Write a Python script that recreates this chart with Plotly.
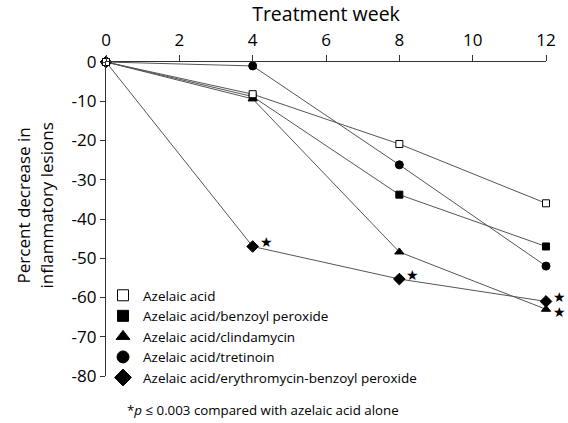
import plotly.graph_objects as go

weeks = [0, 4, 8, 12]
series_names = [
    "Azelaic acid",
    "Azelaic acid/benzoyl peroxide",
    "Azelaic acid/clindamycin",
    "Azelaic acid/tretinoin",
    "Azelaic acid/erythromycin-benzoyl peroxide",
]
azelaic = [0, -8.2, -20.9, -36]
benzoyl = [0, -8.8, -33.8, -47]
clindamycin = [0, -9.4, -48.4, -63]
tretinoin = [0, -1, -26.2, -52]
erythro_bp = [0, -47, -55.3, -61]
x_ticks = [0, 2, 4, 6, 8, 10, 12]
y_ticks = [0, -10, -20, -30, -40, -50, -60, -70, -80]
y_tick_labels = ["0", "-10", "-20", "-30", "-40", "-50", "-60", "-70", "-80"]
# significance markers: (week, value) pairs
sig_points = [(4, -47), (8, -55.3), (12, -61), (12, -63)]

values = [azelaic, benzoyl, clindamycin, tretinoin, erythro_bp]
symbols = ["square", "square", "triangle-up", "circle", "diamond"]
fills = ["white", "black", "black", "black", "black"]
sizes = [7, 7, 8, 8, 9]

FONT = "Open Sans"
fig = go.Figure()
# draw azelaic acid last so its open marker sits on top
order = [1, 2, 3, 4, 0]
for i in order:
    fig.add_trace(go.Scatter(
        x=weeks, y=values[i], mode="lines+markers", showlegend=False,
        line=dict(color="#555555", width=1),
        marker=dict(symbol=symbols[i], size=sizes[i], color=fills[i],
                    line=dict(color="black", width=1)),
        cliponaxis=False,
    ))
for name, sym, sz, fc in zip(series_names, symbols, sizes, fills):
    fig.add_trace(go.Scatter(
        x=[None], y=[None], mode="markers", name=name,
        marker=dict(symbol=sym, size=sz + 4, color=fc, line=dict(color="black", width=1)),
    ))

for (wx, wy) in sig_points:
    fig.add_annotation(x=wx, y=wy, text="★", showarrow=False, xanchor="left", yanchor="middle",
                       xshift=5, yshift=4 if wy != -63 else -3,
                       font=dict(size=14, color="black", family="DejaVu Sans"))

fig.add_annotation(xref="paper", yref="paper", x=(125 - 106) / 443, y=-(410 - 376) / 314,
                   text="*<i>p</i> ≤ 0.003 compared with azelaic acid alone", showarrow=False,
                   xanchor="left", yanchor="middle", font=dict(size=13.3, family=FONT, color="black"))

fig.add_annotation(xref="paper", yref="paper", x=(34 - 106) / 443, y=(376 - 205) / 314,
                   text="Percent decrease in<br>inflammatory lesions", showarrow=False,
                   textangle=-90, xanchor="center", yanchor="middle",
                   font=dict(size=17, family=FONT, color="black"))

fig.update_layout(
    width=568, height=423,
    margin=dict(l=106, r=19, t=62, b=47),
    paper_bgcolor="white", plot_bgcolor="white",
    font=dict(family=FONT, color="black", size=17),
    legend=dict(x=(103 - 106) / 443, y=(376 - 280) / 314, xanchor="left", yanchor="top",
                font=dict(size=13.5, family=FONT), bgcolor="rgba(0,0,0,0)",
                itemwidth=30, tracegroupgap=0),
    xaxis=dict(range=[0, 12], side="top", tickvals=x_ticks, showgrid=False, zeroline=False,
               showline=True, linecolor="#333", linewidth=1.2, ticks="outside", ticklen=6,
               tickcolor="#333", tickfont=dict(size=17), ticklabelstandoff=2,
               title=dict(text="Treatment week", font=dict(size=19.5), standoff=2)),
    yaxis=dict(range=[-80, 0], tickvals=y_ticks, ticktext=y_tick_labels, showgrid=False,
               zeroline=False, showline=True, linecolor="#333", linewidth=1.2, ticks="outside",
               ticklen=5, tickcolor="#333", tickfont=dict(size=17)),
)

fig.write_html("out.html")
